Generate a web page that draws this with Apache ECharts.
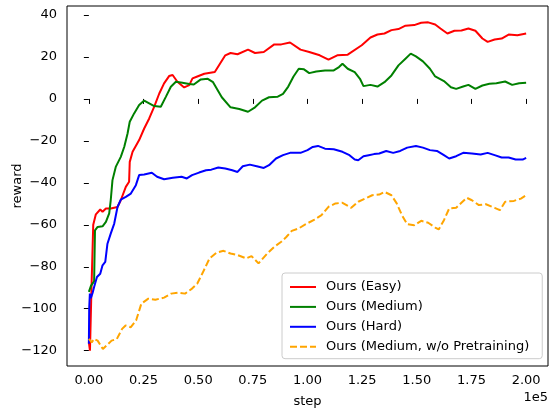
<!DOCTYPE html>
<html>
<head>
<meta charset="utf-8">
<script src="https://cdn.jsdelivr.net/npm/echarts@6/dist/echarts.min.js"></script>
<style>html,body{margin:0;padding:0;background:#fff}#c{width:550px;height:409px}</style>
</head>
<body>
<div id="c"></div>
<script>
// ---- data ----
const seriesNames = ['Ours (Easy)', 'Ours (Medium)', 'Ours (Hard)', 'Ours (Medium, w/o Pretraining)'];
const xTicks = [0, 25000, 50000, 75000, 100000, 125000, 150000, 175000, 200000];
const yTicks = [-120, -100, -80, -60, -40, -20, 0, 20, 40];

const easyX = [0,500,1200,2000,3200,5200,6250,7800,10000,13100,14600,16900,18400,18700,20000,23000,25300,27600,29900,32200,34400,36700,38300,40500,43600,45900,47400,49600,52800,57600,62400,64800,68000,72800,76000,80000,84800,88000,92000,96800,100800,105600,109600,113600,118400,124800,128800,132000,135200,138400,141600,144800,148800,152000,155200,158400,160800,164000,167200,170400,173600,176800,180000,182400,185600,188800,192000,196000,200000];
const easyY = [-116,-120,-90,-60,-55,-52.7,-53.8,-52.2,-52.2,-51.5,-48.3,-41.9,-39.5,-30,-25.2,-19.6,-14.1,-9.3,-3.7,2.6,7.4,10.9,11.4,8.2,5.5,6.6,9.8,10.7,12,12.8,20.8,21.9,21.3,23.5,21.9,22.4,26,26,26.9,23.5,22.4,20.8,18.7,20.8,21.1,25.6,29.3,30.7,31.2,32.8,33.3,34.9,35.2,36.3,36.5,35.5,33.6,31.2,32.5,32.6,33.6,32.5,28.8,27.2,28.3,28.8,30.7,30.4,31.2];

const mediumX = [0,1000,2400,2800,4000,6250,7800,9300,10000,10800,12300,14600,16200,17700,18700,20700,23000,25300,27600,29900,32900,35200,37500,39800,42800,45900,48000,51200,54400,56800,60800,64800,68800,72800,76000,79200,82400,86400,88800,91200,93600,96000,98400,100800,104000,108000,112000,114400,116000,118400,121600,124000,125600,128800,132000,135200,138400,141600,144800,147200,149600,152800,156000,158400,162400,165600,168000,171200,173600,176800,180000,183200,186400,190400,193600,196800,200000];
const mediumY = [-92,-89,-87,-62.6,-61,-60.7,-58.6,-54.6,-48.3,-38.7,-32.4,-27.6,-22.8,-16.5,-10.9,-6.9,-2.9,-0.8,-2.1,-3.4,-3.7,1,5.8,8.2,7.7,7.1,6.9,9.3,9.6,8,0.8,-4,-4.8,-6.1,-4,-0.8,0.8,1.1,2.4,5.9,10.7,14.4,14.1,12.3,13.1,13.6,13.6,15.2,16.8,14.4,12.8,9.6,6.1,6.7,5.9,8,11.2,16,19.2,21.6,20.3,17.9,14.4,10.7,8.5,5.6,4.8,5.9,6.7,4.8,6.4,7.2,7.5,8.3,6.7,7.5,7.7];

const hardX = [0,150,460,900,1700,2400,3700,5200,6250,7500,8500,10000,11600,13100,14600,16900,19200,21500,23000,25300,28800,31200,34400,38400,42400,44800,47200,50400,53600,56000,59200,62400,65600,68000,70400,73600,76800,80000,82400,85600,88800,92000,96800,100000,102400,104800,108000,112000,116000,119200,121600,123200,125600,128000,130400,132800,136000,139200,142400,145600,149600,152800,156000,159200,162400,164800,168000,171200,175200,179200,182400,185600,188800,192000,195200,198400,200000];
const hardY = [-116.7,-100,-92.8,-95,-92.5,-89.6,-84.9,-83.3,-79.3,-77.7,-69,-64.2,-59.4,-51.5,-48,-46.7,-45.1,-41.1,-36.3,-36,-35.2,-37.1,-38.3,-37.6,-37.1,-37.9,-36.3,-35.1,-34,-33.7,-32.7,-33.2,-34,-34.8,-32.1,-31.3,-32.1,-32.9,-31.6,-28.4,-26.8,-25.7,-25.7,-24.4,-22.9,-22.4,-23.7,-24,-25.2,-26.8,-28.9,-29.2,-27.3,-26.8,-26.3,-26,-24.8,-25.7,-24.8,-23.2,-22.4,-23.2,-24.4,-24.8,-26.8,-28.4,-27.3,-25.7,-26,-26.5,-25.7,-26.8,-27.9,-27.9,-28.9,-28.9,-28.1];

const noPreX = [0,1300,2400,4000,6400,8000,10400,12800,15200,16800,19200,21600,24000,27200,30400,34400,37600,40800,44000,47200,49600,52000,55200,58400,61600,64800,68000,72000,74400,77600,81600,84800,88000,90400,92800,96000,99200,103200,106400,109600,112800,116000,120000,123200,126400,129600,132800,135200,138400,140800,143200,145600,148800,152000,155200,158400,160000,162400,164800,168000,170400,172800,175200,178400,181600,185600,188000,190400,194400,197600,200000];
const noPreY = [-114.4,-116,-114.4,-115.2,-119.2,-117.6,-115.2,-114.4,-109.6,-108,-108.8,-105.6,-97.6,-95.2,-95.7,-94.7,-92.8,-92.3,-92.8,-90.4,-88,-83,-76,-73.3,-72.4,-73.7,-74.4,-76,-74.9,-78.4,-73.7,-70.5,-68.1,-65.7,-62.9,-61.7,-59.7,-57.5,-55.4,-51.4,-49.8,-49.5,-51.9,-49,-47.5,-45.9,-45.6,-44.3,-45.9,-49.8,-55.4,-59.7,-60.2,-58.1,-59,-61.3,-62.2,-57.8,-52.2,-51.9,-49.5,-47.1,-48.3,-50.6,-50.2,-51.9,-53,-49,-48.6,-47.5,-45.9];

// ---- chart ----
const zip = (xs, ys) => xs.map((x, i) => [x, ys[i]]);
const FONT = 'DejaVu Sans';
const FS = 13;
const colors = ['#ff0000', '#008000', '#0000ff', '#ffa500'];
const datas = [zip(easyX, easyY), zip(mediumX, mediumY), zip(hardX, hardY), zip(noPreX, noPreY)];

const chart = echarts.init(document.getElementById('c'), null, {renderer: 'canvas'});
chart.setOption({
  animation: false,
  backgroundColor: '#fff',
  textStyle: {fontFamily: FONT},
  grid: {left: 67, right: 2, top: 6, bottom: 43, outerBoundsMode: 'none', containLabel: false,
    show: true, borderColor: '#000', borderWidth: 1, backgroundColor: 'transparent'},
  xAxis: {
    type: 'value', min: -10000, max: 210000,
    name: 'step', nameLocation: 'middle', nameGap: 29, nameMoveOverlap: false,
    nameTextStyle: {fontFamily: FONT, fontSize: FS, color: '#000'},
    axisLine: {show: false},
    splitLine: {show: false},
    axisTick: {show: true, inside: false, length: 5, customValues: xTicks, lineStyle: {color: '#000', width: 1}},
    axisLabel: {customValues: xTicks, margin: 8, fontFamily: FONT, fontSize: FS, color: '#000',
      formatter: v => (v / 1e5).toFixed(2)}
  },
  yAxis: {
    type: 'value', min: -127.3, max: 44.3,
    name: 'reward', nameLocation: 'middle', nameGap: 43, nameRotate: 90, nameMoveOverlap: false,
    nameTextStyle: {fontFamily: FONT, fontSize: FS, color: '#000'},
    axisLine: {show: false},
    splitLine: {show: false},
    axisTick: {show: true, inside: false, length: 5, customValues: yTicks, lineStyle: {color: '#000', width: 1}},
    axisLabel: {customValues: yTicks, margin: 10, fontFamily: FONT, fontSize: FS, color: '#000',
      formatter: v => v < 0 ? '\u2212' + Math.abs(v) : String(v)}
  },
  legend: {
    orient: 'vertical', left: 282, top: 273,
    padding: [7, 13, 5, 7], itemGap: 5.9, itemWidth: 26, itemHeight: 14,
    borderColor: '#cccccc', borderWidth: 1, borderRadius: 3,
    backgroundColor: 'rgba(255,255,255,0.8)',
    itemStyle: {opacity: 0},
    textStyle: {fontFamily: FONT, fontSize: FS, lineHeight: 14, color: '#000', padding: [0, 0, 0, 5]},
    data: seriesNames
  },
  graphic: [{
    type: 'text', right: 2, top: 391,
    style: {text: '1e5', fontFamily: FONT, fontSize: FS, fill: '#000'}
  }],
  series: seriesNames.map((n, i) => ({
    name: n, type: 'line', data: datas[i], showSymbol: false, symbol: 'none',
    color: colors[i],
    lineStyle: {color: colors[i], width: 2, type: i === 3 ? [7, 3] : 'solid'},
    z: 2 + i
  }))
});
</script>
</body>
</html>
